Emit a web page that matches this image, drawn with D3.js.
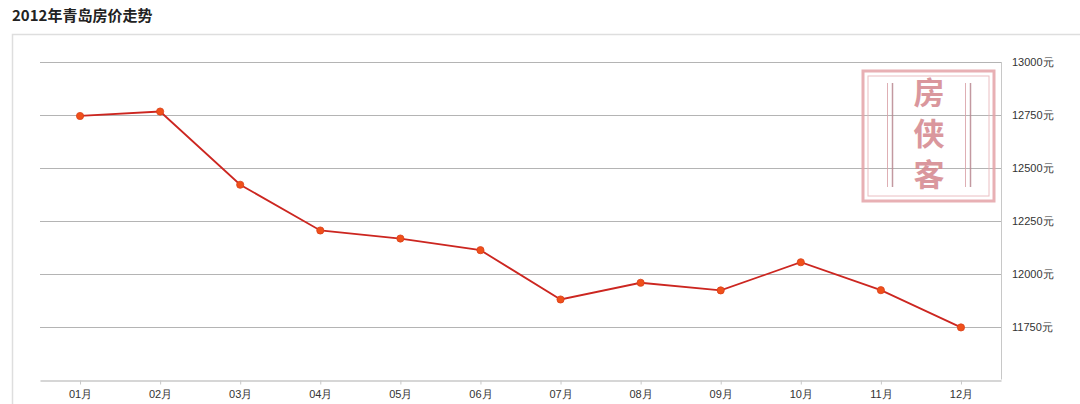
<!DOCTYPE html>
<meta charset="utf-8">
<style>
body { margin: 0; background: #fff; }
svg { display: block; font-family: "Noto Sans CJK SC", "Noto Sans", sans-serif; }
.grid line { stroke: #b4b4b4; stroke-width: 1; }
.yaxis text, .xaxis text { fill: #333; font-size: 11px; }
.xaxis path, .xaxis line { stroke: #c8c8c8; }
</style>
<div id="chart"></div>
<script src="https://cdn.jsdelivr.net/npm/d3@7/dist/d3.min.js"></script>
<script>
var months = ["01月","02月","03月","04月","05月","06月","07月","08月","09月","10月","11月","12月"];
var prices = [12745, 12766, 12420, 12204, 12166, 12111, 11878, 11957, 11921, 12054, 11922, 11746];
var yTicks = [11750, 12000, 12250, 12500, 12750, 13000];
var title = "2012年青岛房价走势";
var stamp = ["房","侠","客"];

var width = 1080, height = 404;
var plot = {left: 40, right: 1001, top: 62, bottom: 379.5};

var svg = d3.select("#chart").append("svg")
    .attr("width", width).attr("height", height);

svg.append("text")
    .attr("x", 12).attr("y", 21)
    .attr("font-size", 15).attr("font-weight", "bold")
    .attr("fill", "#222")
    .text(title);

// outer panel
svg.append("rect")
    .attr("x", 12.5).attr("y", 34.5)
    .attr("width", 1100).attr("height", 400)
    .attr("fill", "#fff").attr("stroke", "#dedede").attr("stroke-width", 1.5);

var x = d3.scalePoint().domain(months).range([plot.left, plot.right]).padding(0.5);
var y = d3.scaleLinear().domain([11500, 13000]).range([plot.bottom, plot.top]);

// gridlines
svg.append("g").attr("class", "grid")
  .selectAll("line").data(yTicks).enter().append("line")
    .attr("x1", plot.left).attr("x2", plot.right)
    .attr("y1", function(d){ return Math.round(y(d)) + 0.5; })
    .attr("y2", function(d){ return Math.round(y(d)) + 0.5; });

// right frame line
svg.append("line")
    .attr("x1", plot.right + 0.5).attr("x2", plot.right + 0.5)
    .attr("y1", plot.top).attr("y2", plot.bottom)
    .attr("stroke", "#c8c8c8");

// watermark stamp
var st = svg.append("g").attr("opacity", 0.85);
st.append("rect").attr("x", 863).attr("y", 71).attr("width", 131).attr("height", 130)
    .attr("fill", "none").attr("stroke", "#e4a3a8").attr("stroke-width", 3);
st.append("rect").attr("x", 868).attr("y", 76).attr("width", 121).attr("height", 120)
    .attr("fill", "none").attr("stroke", "#e8b4b8").attr("stroke-width", 1);
[887.5, 965.5].forEach(function(px){
  st.append("line").attr("x1", px).attr("x2", px).attr("y1", 83).attr("y2", 187)
      .attr("stroke", "#d9a2a8").attr("stroke-width", 1);
  st.append("line").attr("x1", px + 5).attr("x2", px + 5).attr("y1", 83).attr("y2", 187)
      .attr("stroke", "#b98890").attr("stroke-width", 1.5);
});
st.selectAll("text.stamp").data(stamp).enter().append("text")
    .attr("class", "stamp")
    .attr("x", 929)
    .attr("y", function(d, i){ return 104 + i * 41; })
    .attr("text-anchor", "middle")
    .attr("font-size", 31)
    .attr("font-weight", "bold")
    .attr("fill", "#d4868c")
    .text(function(d){ return d; });

// y axis on right
var yAxis = svg.append("g").attr("class", "yaxis")
    .attr("transform", "translate(" + (plot.right + 8) + ",0)")
    .call(d3.axisRight(y).tickValues(yTicks).tickSize(0).tickFormat(function(d){ return d + "元"; }));
yAxis.select(".domain").remove();

// x axis
var xAxis = svg.append("g").attr("class", "xaxis")
    .attr("transform", "translate(0," + (Math.round(plot.bottom) + 0.5) + ")")
    .call(d3.axisBottom(x).tickSize(4).tickSizeOuter(0).tickPadding(6));
xAxis.select(".domain").attr("stroke-width", 1.5);

// line
var line = d3.line()
    .x(function(d, i){ return x(months[i]); })
    .y(function(d){ return y(d); });

svg.append("path")
    .datum(prices)
    .attr("fill", "none")
    .attr("stroke", "#cc2620")
    .attr("stroke-width", 1.8)
    .attr("d", line);

svg.selectAll("circle.pt").data(prices).enter().append("circle")
    .attr("class", "pt")
    .attr("cx", function(d, i){ return x(months[i]); })
    .attr("cy", function(d){ return y(d); })
    .attr("r", 3.6)
    .attr("fill", "#f0501a")
    .attr("stroke", "#d9401a")
    .attr("stroke-width", 0.8);
</script>
